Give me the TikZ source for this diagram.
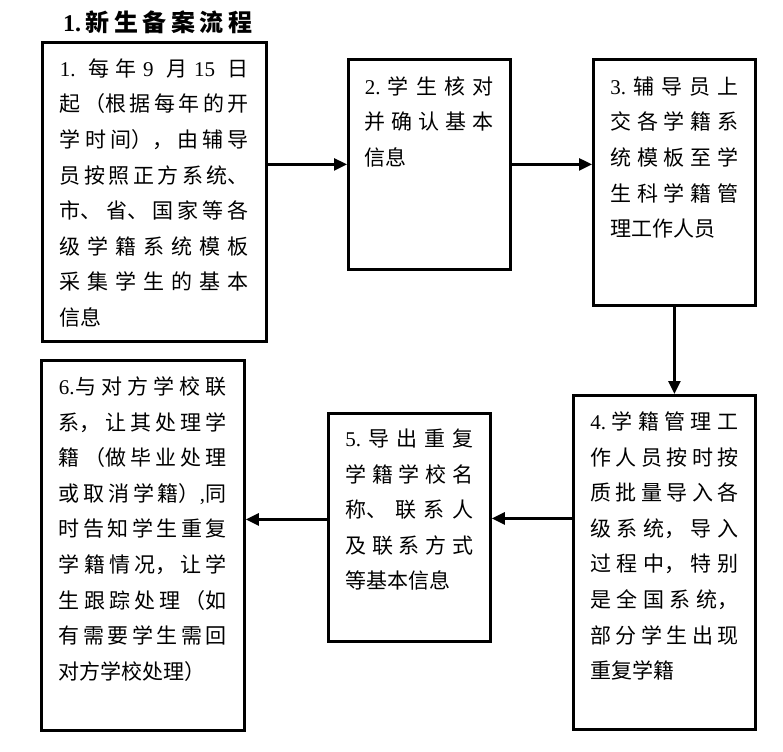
\documentclass[tikz,border=0pt]{standalone}
\usepackage{fontspec}
\setmainfont{Noto Sans CJK SC}
\newfontfamily\lat{Liberation Serif}
\usetikzlibrary{arrows.meta}
\XeTeXlinebreaklocale "zh"
\XeTeXlinebreakskip=0pt plus 10pt
\tolerance=10000
\hbadness=10000
\newcommand\gp{\hspace{0pt plus 10pt}}
\newcommand\sgp{\hspace{0pt plus 2pt}}
\newcommand\boxfont{\fontsize{21pt}{35.6pt}\selectfont\tolerance=10000\relax}
\tikzset{
  stepbox/.style={draw, line width=2.8pt, anchor=north west, inner ysep=0pt,
    align=justify, font=\boxfont},
  arr/.style={line width=2.6pt, -{Triangle[length=13pt,width=12pt]}},
}
\begin{document}
\begin{tikzpicture}[x=1pt,y=-1pt]
\useasboundingbox[fill=white] (0,0) rectangle (783,751);
\node[anchor=base west, inner sep=0pt] (title) at (63,32)
  {\fontsize{24pt}{24pt}\selectfont\bfseries\makebox[189pt][s]{{\lat\bfseries 1.}\hfill 新\hfill 生\hfill 备\hfill 案\hfill 流\hfill 程}};

\node[stepbox, text width=189pt, inner xsep=17.5pt, text height=34pt, text depth=265pt] (b1) at (41,41)
  {{\lat 1.\ }\gp 每年{\lat\ 9\ }\gp 月{\lat\ 15\ }\gp 日\linebreak
   起（根据每年的开\linebreak
   学时间），由辅导\linebreak
   员按照正方系统、\linebreak
   市、省、国家等各\linebreak
   级学籍系统模板\linebreak
   采集学生的基本\linebreak
   信息};

\node[stepbox, text width=129pt, inner xsep=16.5pt, text height=35pt, text depth=175pt] (b2) at (347,58)
  {{\lat 2.}\gp 学生核对\linebreak
   并确认基本\linebreak
   信息};

\node[stepbox, text width=128pt, inner xsep=17pt, text height=35pt, text depth=211pt] (b3) at (592,58)
  {{\lat 3.}\gp 辅导员上\linebreak
   交各学籍系\linebreak
   统模板至学\linebreak
   生科学籍管\linebreak
   理工作人员};

\node[stepbox, text width=148pt, inner xsep=17pt, text height=34pt, text depth=300pt] (b4) at (572,394)
  {{\lat 4.}\gp 学籍管理工\linebreak
   作人员按时按\linebreak
   质批量导入各\linebreak
   级系统，导入\linebreak
   过程中，特别\linebreak
   是全国系统，\linebreak
   部分学生出现\linebreak
   重复学籍};

\node[stepbox, text width=128pt, inner xsep=17pt, text height=33pt, text depth=195pt] (b5) at (327,412)
  {{\lat 5.}\gp 导出重复\linebreak
   学籍学校名\linebreak
   称、联系人\linebreak
   及联系方式\linebreak
   等基本信息};

\node[stepbox, text width=168pt, inner xsep=17.5pt, text height=34pt, text depth=336pt] (b6) at (40,359)
  {{\lat 6.}\sgp 与对方学校联\linebreak
   系，让其处理学\linebreak
   籍（做毕业处理\linebreak
   或取消学籍）{\lat ,}\sgp 同\linebreak
   时告知学生重复\linebreak
   学籍情况，让学\linebreak
   生跟踪处理（如\linebreak
   有需要学生需回\linebreak
   对方学校处理）};

\coordinate (m5) at ([yshift=9pt]b5.east);
\coordinate (m6) at ([yshift=8pt]b5.west);
\draw[arr] (b1.east |- b2.west) -- (b2.west);
\draw[arr] (b2.east) -- (b2.east -| b3.west);
\draw[arr] (b3.south) -- (b3.south |- b4.north);
\draw[arr] (b4.west |- m5) -- (m5);
\draw[arr] (m6) -- (m6 -| b6.east);
\end{tikzpicture}
\end{document}
